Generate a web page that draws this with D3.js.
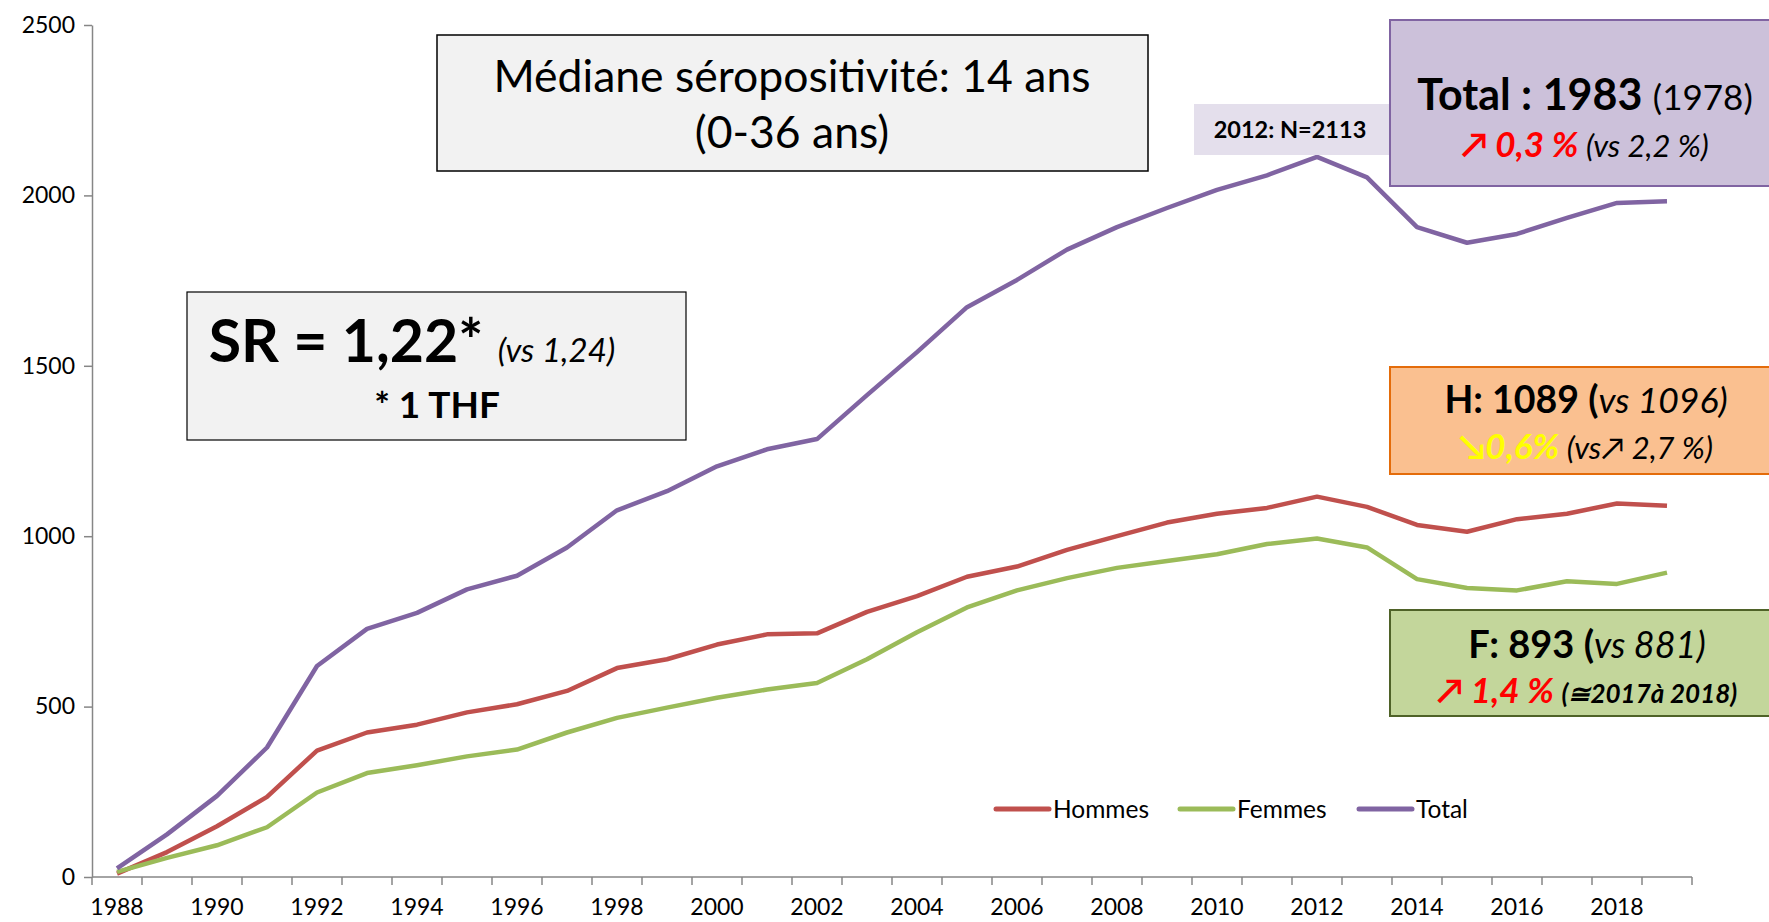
<!DOCTYPE html>
<html>
<head>
<meta charset="utf-8">
<script src="https://cdn.jsdelivr.net/npm/d3@7"></script>
<style>
  body { margin: 0; background: #fff; }
  svg { display: block; font-family: Lato, "Open Sans", sans-serif; }
</style>
</head>
<body>
<svg id="chart" width="1769" height="922"></svg>
<script>
const years = d3.range(1988, 2020);

const hommes = [10, 73, 149, 235, 371, 424, 447, 483, 507, 546, 613, 639, 682, 712, 715, 778,
  824, 881, 911, 960, 1000, 1040, 1066, 1083, 1116, 1086, 1033, 1013, 1050, 1066, 1096, 1089];
const femmes = [15, 56, 93, 146, 248, 305, 328, 354, 374, 424, 467, 497, 526, 550, 569, 639,
  718, 791, 841, 877, 907, 927, 947, 977, 993, 967, 874, 848, 841, 868, 860, 893];
const total = [25, 125, 238, 380, 619, 728, 775, 844, 884, 967, 1076, 1132, 1205, 1255, 1285, 1414,
  1540, 1672, 1752, 1841, 1907, 1963, 2016, 2059, 2113, 2053, 1907, 1861, 1887, 1934, 1978, 1983];

const yTicks = [0, 500, 1000, 1500, 2000, 2500];
const xLabels = years.filter((d) => d % 2 === 0);

const series = [
  { name: 'Hommes', values: hommes, color: '#c0504d' },
  { name: 'Femmes', values: femmes, color: '#9bbb59' },
  { name: 'Total', values: total, color: '#8064a2' },
];

const width = 1769;
const height = 922;
const margin = { top: 25, right: 77, bottom: 45, left: 92 };

const svg = d3.select('#chart');

const xScale = d3.scaleBand()
  .domain(years)
  .range([margin.left, width - margin.right])
  .padding(0);

const yScale = d3.scaleLinear()
  .domain([0, 2500])
  .range([height - margin.bottom, margin.top]);

const axisColor = '#868686';

// y axis
const yAxis = svg.append('g')
  .attr('transform', `translate(${margin.left},0)`)
  .call(d3.axisLeft(yScale).tickValues(yTicks).tickFormat(d3.format('d'))
    .tickSize(8).tickSizeOuter(0).tickPadding(9));
yAxis.select('.domain').attr('stroke', axisColor).attr('stroke-width', 1.5);
yAxis.selectAll('.tick line').attr('stroke', axisColor).attr('stroke-width', 1.5);
yAxis.selectAll('.tick text').attr('font-size', 23).attr('fill', '#000')
  .attr('font-family', 'Lato, sans-serif');

// x axis: ticks between categories, labels every other year
const x0 = height - margin.bottom;
const xAxis = svg.append('g');
xAxis.append('line')
  .attr('x1', margin.left).attr('x2', width - margin.right)
  .attr('y1', x0).attr('y2', x0)
  .attr('stroke', axisColor).attr('stroke-width', 1.5);
xAxis.selectAll('line.tick')
  .data(years.concat([2020]))
  .join('line')
  .attr('class', 'tick')
  .attr('x1', (d) => d === 2020 ? xScale(2019) + xScale.bandwidth() : xScale(d))
  .attr('x2', (d) => d === 2020 ? xScale(2019) + xScale.bandwidth() : xScale(d))
  .attr('y1', x0).attr('y2', x0 + 8)
  .attr('stroke', axisColor).attr('stroke-width', 1.5);
xAxis.selectAll('text')
  .data(xLabels)
  .join('text')
  .attr('x', (d) => xScale(d) + xScale.bandwidth() / 2)
  .attr('y', x0 + 38)
  .attr('text-anchor', 'middle')
  .attr('font-size', 23)
  .text((d) => d);

// lines
const lineGenerator = d3.line()
  .x((d, i) => xScale(years[i]) + xScale.bandwidth() / 2)
  .y((d) => yScale(d));

svg.selectAll('path.serie')
  .data(series)
  .join('path')
  .attr('class', 'serie')
  .attr('d', (d) => lineGenerator(d.values))
  .attr('fill', 'none')
  .attr('stroke', (d) => d.color)
  .attr('stroke-width', 4.5)
  .attr('stroke-linejoin', 'round');

// legend
const legendX = [996, 1180, 1359];
const legend = svg.selectAll('g.legend')
  .data(series)
  .join('g')
  .attr('class', 'legend')
  .attr('transform', (d, i) => `translate(${legendX[i]},809)`);
legend.append('line')
  .attr('x1', 0).attr('x2', 53)
  .attr('stroke', (d) => d.color)
  .attr('stroke-width', 5)
  .attr('stroke-linecap', 'round');
legend.append('text')
  .attr('x', 57).attr('y', 9)
  .attr('font-size', 24.5)
  .text((d) => d.name);

// annotation boxes
const box = (x, y, w, h, fill, stroke, sw) =>
  svg.append('rect')
    .attr('x', x).attr('y', y).attr('width', w).attr('height', h)
    .attr('fill', fill).attr('stroke', stroke).attr('stroke-width', sw);

const textLine = (x, y, parts) => {
  const t = svg.append('text').attr('x', x).attr('y', y).attr('text-anchor', 'middle');
  parts.forEach((p) => {
    t.append('tspan')
      .attr('font-size', p.size)
      .attr('font-weight', p.bold ? 'bold' : 'normal')
      .attr('font-style', p.italic ? 'italic' : 'normal')
      .attr('fill', p.color || '#000')
      .text(p.text);
  });
  return t;
};

// médiane
box(437, 35, 711, 136, '#f2f2f2', '#000', 1.5);
textLine(792, 92, [{ text: 'Médiane séropositivité: 14 ans', size: 44.5 }]);
textLine(792, 148, [{ text: '(0-36 ans)', size: 44.5 }]);

// SR
box(187, 292, 499, 148, '#f2f2f2', '#000', 1.2);
textLine(412, 362, [
  { text: 'SR = 1,22* ', size: 59, bold: true },
  { text: '(vs 1,24)', size: 33, italic: true },
]);
textLine(437, 418, [{ text: '* 1 THF', size: 37, bold: true }]);

// 2012 label
svg.append('rect')
  .attr('x', 1194).attr('y', 104).attr('width', 196).attr('height', 51)
  .attr('fill', '#e4dfec');
textLine(1290, 138, [{ text: '2012: N=2113', size: 23.5, bold: true }]);

// total
box(1390, 20, 400, 166, '#ccc1da', '#8064a2', 2);
textLine(1585, 110, [
  { text: 'Total : 1983 ', size: 43, bold: true },
  { text: '(1978)', size: 35 },
]);
textLine(1585, 157, [
  { text: '↗ 0,3 % ', size: 35, bold: true, italic: true, color: '#ff0000' },
  { text: '(vs 2,2 %)', size: 31, italic: true },
]);

// hommes
box(1390, 367, 400, 107, '#fac090', '#e46c0a', 2);
textLine(1586, 413, [
  { text: 'H: 1089 (', size: 37.5, bold: true },
  { text: 'vs 1096)', size: 35.5, italic: true },
]);
textLine(1586, 459, [
  { text: '↘0,6% ', size: 35, bold: true, italic: true, color: '#ffff00' },
  { text: '(vs↗ 2,7 %)', size: 31, italic: true },
]);

// femmes
box(1390, 610, 400, 106, '#c3d69b', '#4f6228', 2);
textLine(1587, 658, [
  { text: 'F: 893 (', size: 38, bold: true },
  { text: 'vs 881)', size: 36, italic: true },
]);
textLine(1587, 703, [
  { text: '↗ 1,4 % ', size: 35, bold: true, italic: true, color: '#ff0000' },
  { text: '(≅2017à 2018)', size: 26, bold: true, italic: true },
]);
</script>
</body>
</html>
